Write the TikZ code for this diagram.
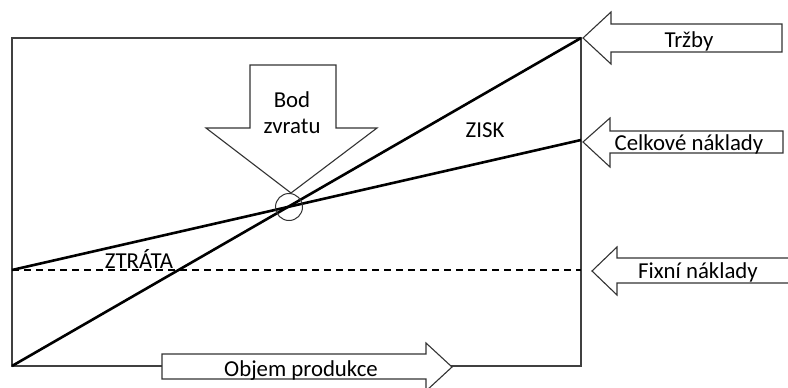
\documentclass[tikz,border=0pt]{standalone}
\usepackage{fontspec}
\setmainfont{Carlito}
\begin{document}
\begin{tikzpicture}[x=1pt,y=-1pt,
  frame/.style={draw=black!75,line width=1.2pt},
  curve/.style={draw=black,line width=2.6pt},
  fixline/.style={draw=black,line width=1.1pt,dash pattern=on 7pt off 5pt},
  bigarrow/.style={draw=black!80,line width=1.1pt,fill=white,line join=miter},
  lbl/.style={font=\fontsize{22.8}{25}\selectfont,inner sep=0pt,text=black,anchor=base}]
\useasboundingbox (0,0) rectangle (788,388);
\begin{scope}
\clip (0,0) rectangle (788,388);
% frame
\coordinate (O) at (12,366);
\coordinate (TL) at (12,38);
\coordinate (TR) at (581,38);
\coordinate (BR) at (581,366);
\draw[frame] (O) -- (TL) -- (TR) -- (BR) -- cycle;
% lines
\coordinate (F0) at (12,270);
\coordinate (F1) at (581,270);
\coordinate (C1) at (581,140);
\draw[fixline] (F0) -- (F1);
\draw[curve] (F0) -- (C1);
\draw[curve] (O) -- (TR);
% break-even circle
\node[circle,draw=black!80,line width=1pt,minimum size=27pt,inner sep=0pt] (bep) at (289,207) {};
% Bod zvratu arrow
\draw[bigarrow] (291,193) -- (206,128) -- (250,128) -- (250,65) -- (336,65) -- (336,128) -- (377,128) -- cycle;
\node[lbl] (bod) at (292,107) {Bod};
\node[lbl] (zvr) at (292,133) {zvratu};
% Trzby arrow
\draw[bigarrow] (583,38) -- (611,12) -- (611,24) -- (782,24) -- (782,52) -- (611,52) -- (611,64) -- cycle;
\node[lbl] (trz) at (689,47) {Tržby};
% Celkove naklady arrow
\draw[bigarrow] (583,142) -- (610,118) -- (610,131) -- (783,131) -- (783,153) -- (610,153) -- (610,167) -- cycle;
\node[lbl] (cel) at (689,150) {Celkové náklady};
% Fixni naklady arrow
\draw[bigarrow] (592,271) -- (617,247) -- (617,258) -- (795,258) -- (795,283) -- (617,283) -- (617,295) -- cycle;
\node[lbl] (fix) at (698,278) {Fixní náklady};
% Objem produkce arrow
\draw[bigarrow] (452,367) -- (426,343) -- (426,354) -- (162,354) -- (162,379) -- (426,379) -- (426,391) -- cycle;
\node[lbl] (obj) at (301,376) {Objem produkce};
% region labels
\node[lbl] (zisk) at (485,137) {ZISK};
\node[lbl] (ztr) at (139,268) {ZTRÁTA};
\end{scope}
\end{tikzpicture}
\end{document}
